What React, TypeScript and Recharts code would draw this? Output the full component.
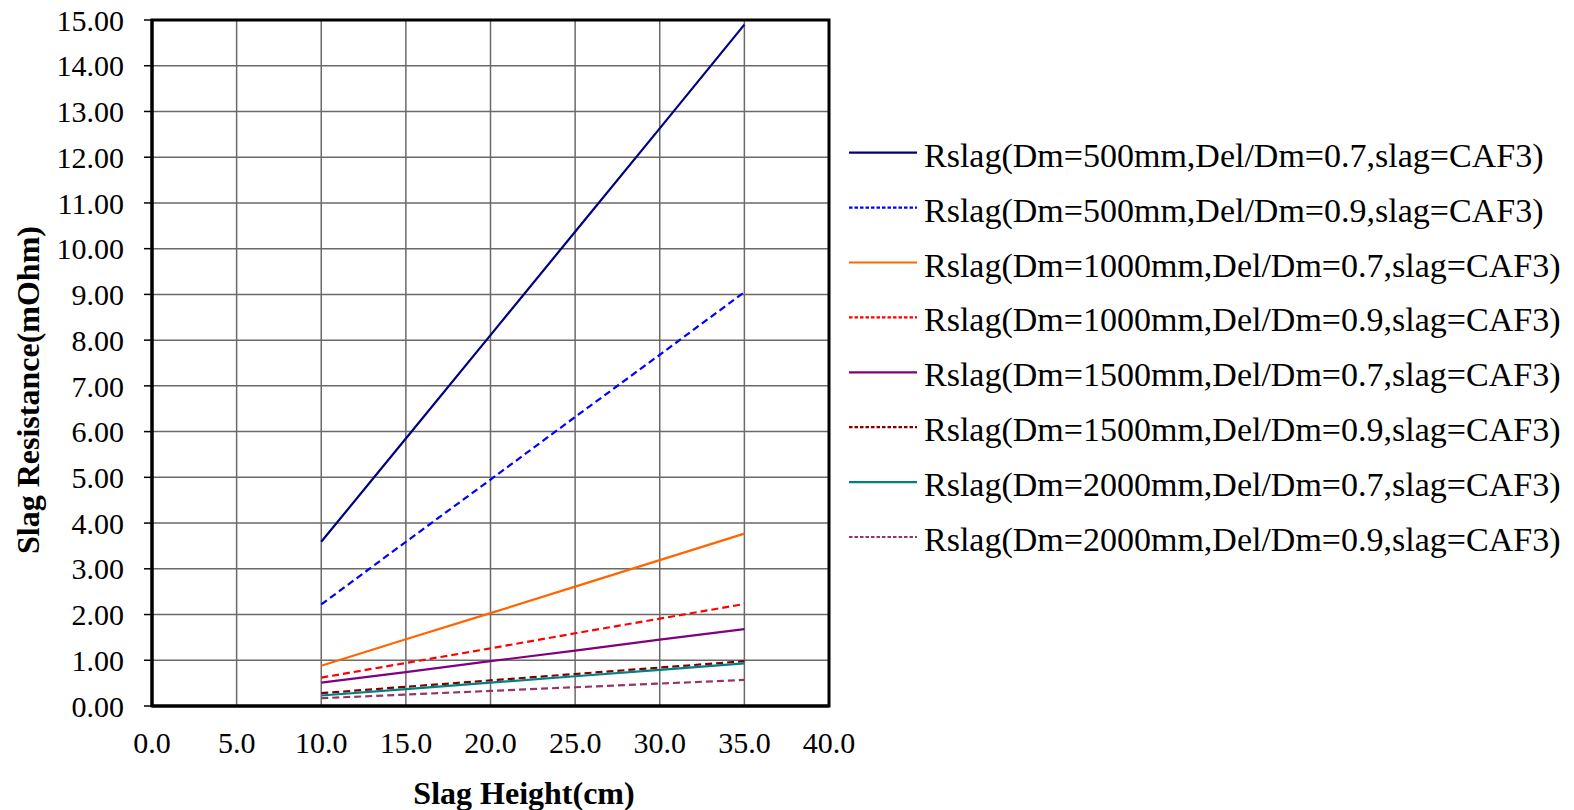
import React from 'react';
import { LineChart, Line, XAxis, YAxis, CartesianGrid, ReferenceArea } from 'recharts';

const heights = [10, 15, 20, 25, 30, 35];

const seriesNames = [
  'Rslag(Dm=500mm,Del/Dm=0.7,slag=CAF3)',
  'Rslag(Dm=500mm,Del/Dm=0.9,slag=CAF3)',
  'Rslag(Dm=1000mm,Del/Dm=0.7,slag=CAF3)',
  'Rslag(Dm=1000mm,Del/Dm=0.9,slag=CAF3)',
  'Rslag(Dm=1500mm,Del/Dm=0.7,slag=CAF3)',
  'Rslag(Dm=1500mm,Del/Dm=0.9,slag=CAF3)',
  'Rslag(Dm=2000mm,Del/Dm=0.7,slag=CAF3)',
  'Rslag(Dm=2000mm,Del/Dm=0.9,slag=CAF3)',
];

const r500_07 = [3.59, 5.85, 8.11, 10.37, 12.63, 14.9];
const r500_09 = [2.22, 3.59, 4.95, 6.32, 7.68, 9.05];
const r1000_07 = [0.88, 1.46, 2.03, 2.61, 3.19, 3.77];
const r1000_09 = [0.62, 0.94, 1.26, 1.59, 1.91, 2.23];
const r1500_07 = [0.51, 0.74, 0.98, 1.21, 1.45, 1.68];
const r1500_09 = [0.28, 0.42, 0.56, 0.7, 0.84, 0.98];
const r2000_07 = [0.23, 0.37, 0.51, 0.65, 0.79, 0.93];
const r2000_09 = [0.17, 0.25, 0.33, 0.41, 0.49, 0.57];

const seriesValues = [r500_07, r500_09, r1000_07, r1000_09, r1500_07, r1500_09, r2000_07, r2000_09];
const seriesColors = ['#000080', '#0000FF', '#FF6600', '#FF0000', '#800080', '#800000', '#008080', '#993366'];
const seriesDashed = [false, true, false, true, false, true, false, true];

const xTicks = [0, 5, 10, 15, 20, 25, 30, 35, 40];
const yTicks = [0, 1, 2, 3, 4, 5, 6, 7, 8, 9, 10, 11, 12, 13, 14, 15];

const xTitle = 'Slag Height(cm)';
const yTitle = 'Slag Resistance(mOhm)';

const keys = seriesValues.map((_, i) => 's' + i);
const data = heights.map((h, j) => {
  const row: Record<string, number> = { h };
  seriesValues.forEach((vals, i) => {
    row[keys[i]] = vals[j];
  });
  return row;
});

const FONT = '"Liberation Serif", "Times New Roman", serif';

const YTitle = () => (
  <text
    x={28}
    y={390}
    transform="rotate(-90, 28, 390)"
    textAnchor="middle"
    dominantBaseline="central"
    style={{ fontFamily: FONT, fontSize: 32, fontWeight: 'bold', fill: '#000' }}
  >
    {yTitle}
  </text>
);

const XTitle = () => (
  <text
    x={524}
    y={804}
    textAnchor="middle"
    style={{ fontFamily: FONT, fontSize: 32, fontWeight: 'bold', fill: '#000' }}
  >
    {xTitle}
  </text>
);

export default function App() {
  return (
    <div style={{ position: 'relative', width: 1574, height: 810 }}>
      <style>{`body{margin:0;background:#fff;}`}</style>
      <LineChart
        width={1574}
        height={810}
        data={data}
        margin={{ top: 20, right: 745, bottom: 44, left: 52 }}
      >
        <CartesianGrid stroke="#6a6a6a" strokeWidth={1.5} horizontal vertical />
        <XAxis
          dataKey="h"
          type="number"
          domain={[0, 40]}
          ticks={xTicks}
          tickFormatter={(v: number) => v.toFixed(1)}
          height={60}
          axisLine={{ stroke: '#000', strokeWidth: 3 }}
          tickLine={false}
          tickSize={0}
          tickMargin={26}
          tick={{ fontFamily: FONT, fontSize: 30, fill: '#000' }}
          interval={0}
          label={<XTitle />}
        />
        <YAxis
          type="number"
          domain={[0, 15]}
          ticks={yTicks}
          tickFormatter={(v: number) => v.toFixed(2)}
          width={100}
          axisLine={{ stroke: '#000', strokeWidth: 3 }}
          tickLine={{ stroke: '#000', strokeWidth: 1.5 }}
          tickSize={8}
          tickMargin={20}
          tick={{ fontFamily: FONT, fontSize: 30, fill: '#000' }}
          interval={0}
          label={<YTitle />}
        />
        {keys.map((k, i) => (
          <Line
            key={k}
            type="linear"
            dataKey={k}
            name={seriesNames[i]}
            stroke={seriesColors[i]}
            strokeWidth={2.2}
            strokeDasharray={seriesDashed[i] ? '7 4' : undefined}
            dot={false}
            activeDot={false}
            isAnimationActive={false}
          />
        ))}
        <ReferenceArea x1={0} x2={40} y1={0} y2={15} fill="none" stroke="#000" strokeWidth={3} ifOverflow="visible" />
      </LineChart>
      <svg
        width={740}
        height={460}
        style={{ position: 'absolute', left: 834, top: 110, overflow: 'visible' }}
      >
        {seriesNames.map((name, i) => {
          const y = 42.7 + i * 54.9;
          return (
            <g key={name}>
              <line
                x1={15}
                x2={83}
                y1={y}
                y2={y}
                stroke={seriesColors[i]}
                strokeWidth={2.2}
                strokeDasharray={seriesDashed[i] ? '3.5 2' : undefined}
              />
              <text
                x={90}
                y={y + 14}
                style={{ fontFamily: FONT, fontSize: 34, fill: '#000' }}
              >
                {name}
              </text>
            </g>
          );
        })}
      </svg>
    </div>
  );
}
